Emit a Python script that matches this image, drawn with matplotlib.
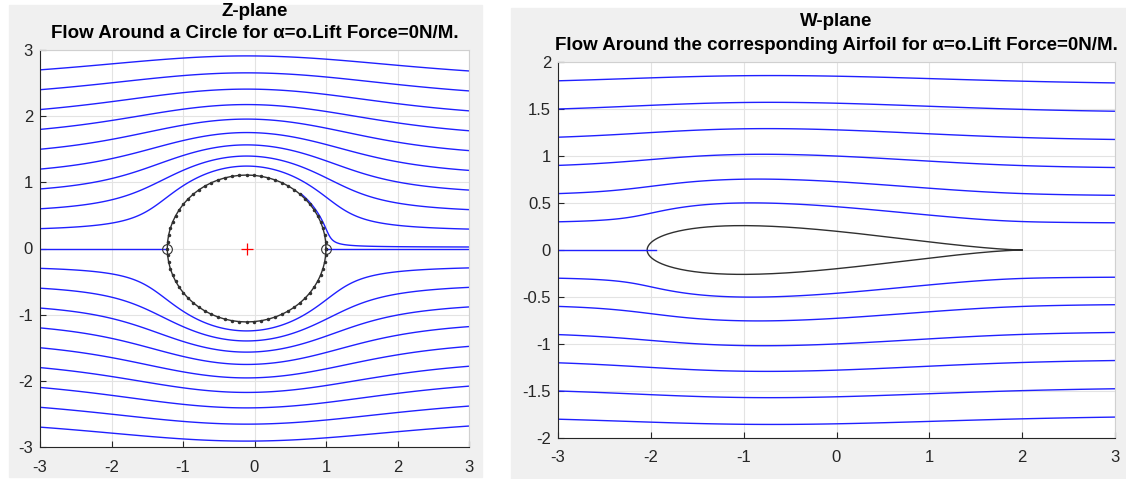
import numpy as np
import matplotlib
matplotlib.use('Agg')
import matplotlib.pyplot as plt
from matplotlib.patches import Rectangle

plt.rcParams['font.family'] = ['Liberation Sans', 'DejaVu Sans']
plt.rcParams['axes.unicode_minus'] = False

# circle in the z-plane (Joukowski w = z + 1/z)
center = -0.11
radius = 1.11

# starting heights of the streamlines at x = -3
z_starts = [2.7, 2.4, 2.1, 1.8, 1.5, 1.2, 0.9, 0.6, 0.3,
            -0.3, -0.6, -0.9, -1.2, -1.5, -1.8, -2.1, -2.4, -2.7]
w_starts = [1.8, 1.5, 1.2, 0.9, 0.6, 0.3,
            -0.3, -0.6, -0.9, -1.2, -1.5, -1.8]
x_start = -3
wake_level = 0.02  # the blue line hugging the rear of the circle

z_titles = ['Z-plane', 'Flow Around a Circle for \u03b1=o.Lift Force=0N/M.']
w_titles = ['W-plane', 'Flow Around the corresponding Airfoil for \u03b1=o.Lift Force=0N/M.']
z_ticks = [-3, -2, -1, 0, 1, 2, 3]
w_yticks = [-2, -1.5, -1, -0.5, 0, 0.5, 1, 1.5, 2]


def psi(z):
    zeta = z - center
    return np.imag(zeta + radius ** 2 / zeta)


def inv_jouk(w):
    s = np.sqrt(w * w - 4 + 0j)
    a, b = (w + s) / 2, (w - s) / 2
    return a if abs(a - center) >= abs(b - center) else b


# polar grid outside the circle
r = radius * np.geomspace(1.0, 7.0, 500)
th = np.linspace(0, 2 * np.pi, 1441)
R, TH = np.meshgrid(r, th)
Z = center + R * np.exp(1j * TH)
W = Z + 1 / Z
P = psi(Z)

z_levels = sorted(psi(x_start + 1j * y) for y in z_starts)
w_levels = sorted(psi(inv_jouk(x_start + 1j * y)) for y in w_starts)

fig = plt.figure(figsize=(11.26, 4.79), dpi=100)
fig.patch.set_facecolor('white')
fig.patches.append(Rectangle((9 / 1126, 2 / 479), 473 / 1126, 472 / 479,
                             transform=fig.transFigure, color='#f0f0f0', zorder=-10))
fig.patches.append(Rectangle((511 / 1126, 0), 615 / 1126, 471 / 479,
                             transform=fig.transFigure, color='#f0f0f0', zorder=-10))

ax1 = fig.add_axes([40 / 1126, 1 - 447 / 479, 429 / 1126, 397 / 479])
ax2 = fig.add_axes([558 / 1126, 1 - 438 / 479, 557 / 1126, 376 / 479])

blue = '#2020ff'


def style(ax):
    ax.set_facecolor('white')
    ax.grid(True, color='#e3e3e3', linewidth=0.8)
    ax.set_axisbelow(True)
    ax.tick_params(direction='in', length=4, width=0.8, colors='#262626',
                   labelsize=12, pad=5, top=False, right=False)
    ax.tick_params(axis='x', pad=9)
    for s in ['left', 'bottom']:
        ax.spines[s].set_color('#262626')
        ax.spines[s].set_linewidth(0.8)
    for s in ['top', 'right']:
        ax.spines[s].set_color('#d0d0d0')
        ax.spines[s].set_linewidth(0.8)


# ---- Z-plane ----
style(ax1)
ax1.contour(Z.real, Z.imag, P, levels=z_levels, colors=blue, linewidths=1.0,
            linestyles='solid')
mask = (np.cos(TH) > 0) & (np.sin(TH) > 0) & (TH < np.deg2rad(48))
Pw = np.where(mask, P, np.nan)
ax1.contour(Z.real, Z.imag, Pw, levels=[wake_level], colors=blue, linewidths=1.0,
            linestyles='solid')
ax1.plot([x_start, center - radius], [0, 0], color=blue, lw=1.0)
ax1.plot([center + radius, 3], [0, 0], color=blue, lw=1.0)
tc = np.linspace(0, 2 * np.pi, 69)
ax1.plot(center + radius * np.cos(tc), radius * np.sin(tc), color='#303030', lw=1.0,
         marker='.', markersize=3)
ax1.plot([center - radius, center + radius], [0, 0], 'o', mfc='none', mec='#303030',
         markersize=7, mew=0.8)
ax1.plot([center], [0], '+', color='red', markersize=9, mew=0.9)
ax1.set_xlim(-3, 3)
ax1.set_ylim(-3, 3)
ax1.set_xticks(z_ticks)
ax1.set_yticks(z_ticks)

# ---- W-plane ----
style(ax2)
ax2.contour(W.real, W.imag, P, levels=w_levels, colors=blue, linewidths=1.0,
            linestyles='solid')
zc = center + radius * np.exp(1j * np.linspace(0, 2 * np.pi, 400))
wc = zc + 1 / zc
ax2.plot(wc.real, wc.imag, color='#303030', lw=1.0)
le = center - radius
le = le + 1 / le
ax2.plot([x_start, le + 0.1], [0, 0], color=blue, lw=1.0)
ax2.set_xlim(-3, 3)
ax2.set_ylim(-2, 2)
ax2.set_xticks(z_ticks)
ax2.set_yticks(w_yticks)
ax2.set_yticklabels([f'{v:g}' for v in w_yticks])

# titles
tkw = dict(ha='center', va='center', fontsize=13.5, fontweight='bold', color='black')
fig.text((40 + 469) / 2 / 1126, 1 - 12 / 479, z_titles[0], **tkw)
fig.text((40 + 469) / 2 / 1126, 1 - 34 / 479, z_titles[1], **tkw)
fig.text((558 + 1115) / 2 / 1126, 1 - 22 / 479, w_titles[0], **tkw)
fig.text((558 + 1115) / 2 / 1126, 1 - 46 / 479, w_titles[1], **tkw)

fig.savefig('out.png', dpi=100)
